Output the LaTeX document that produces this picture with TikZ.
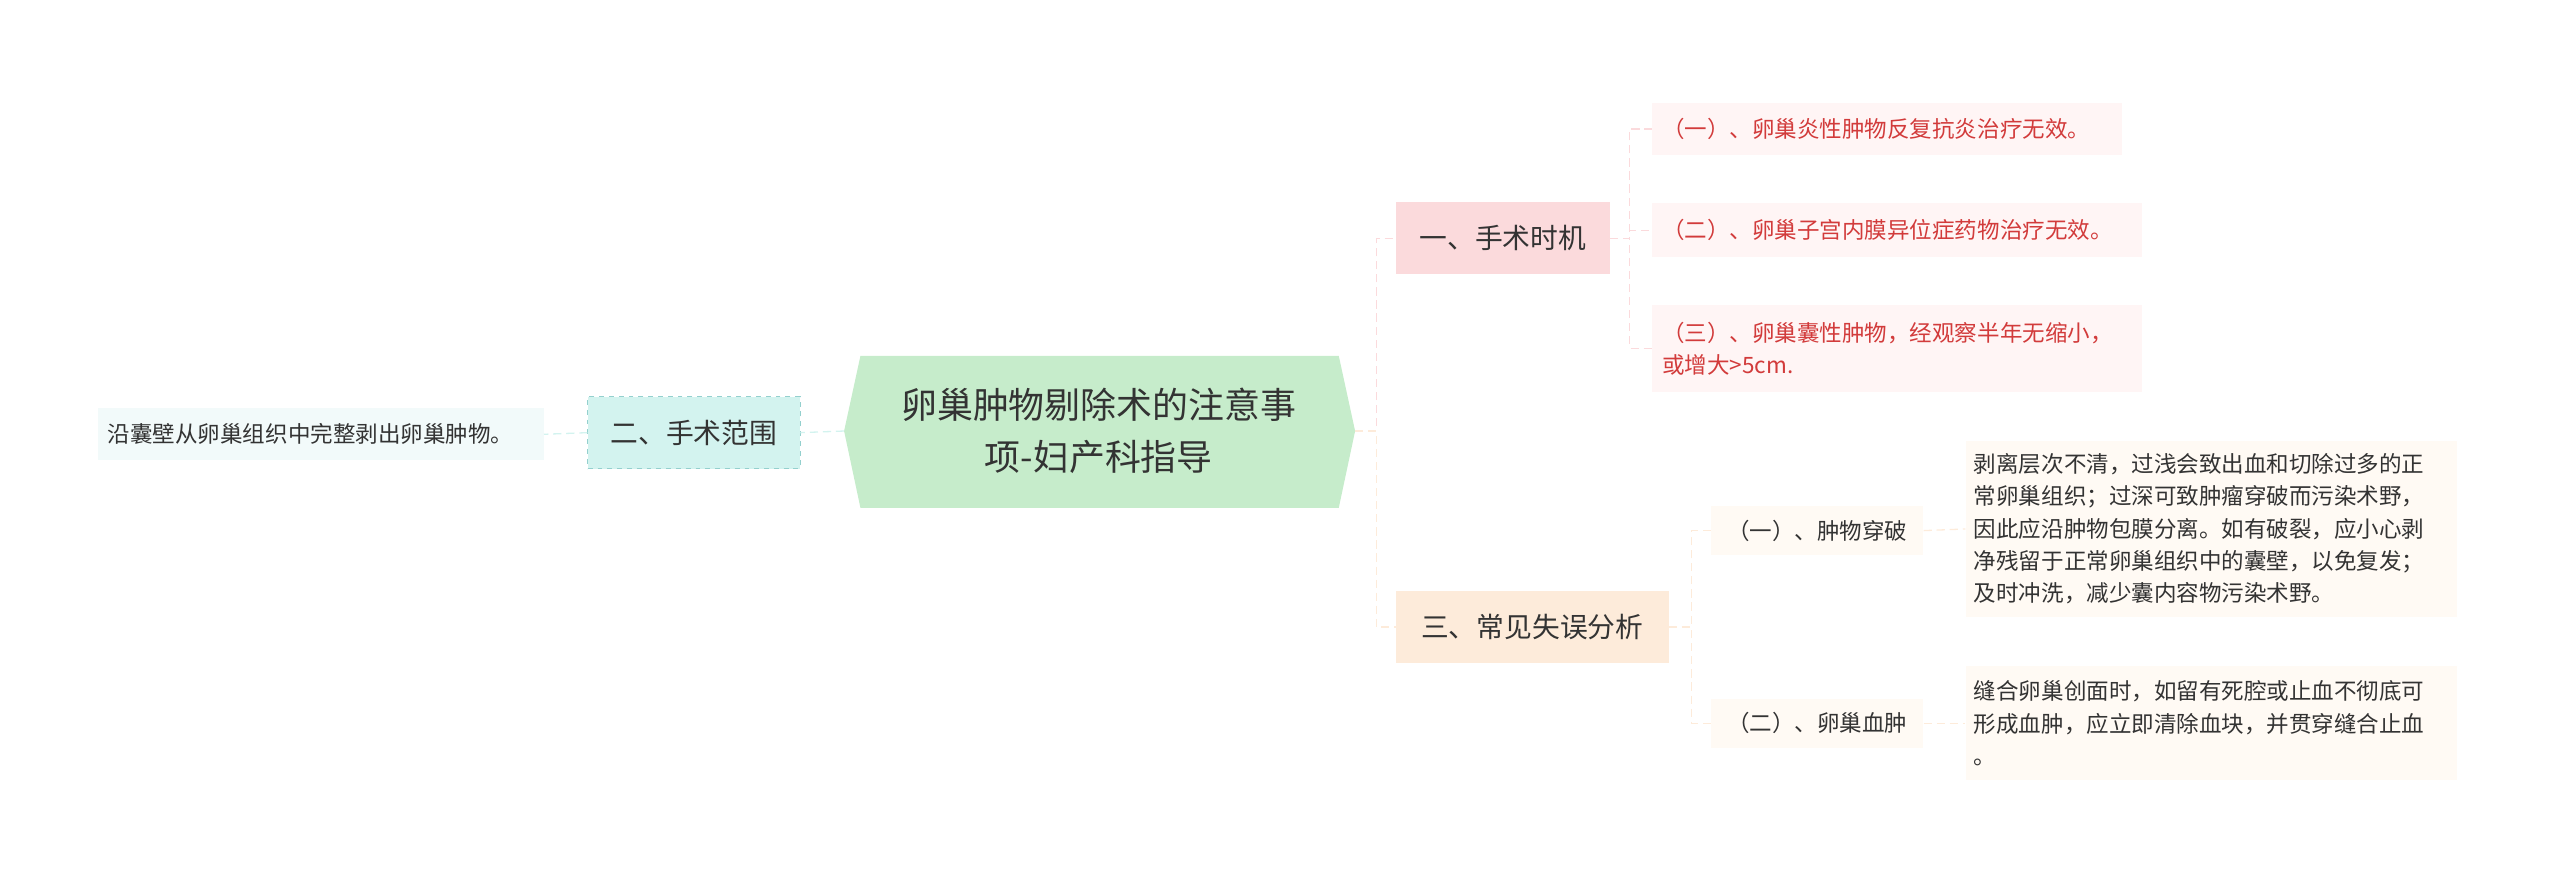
\documentclass[tikz,border=0pt]{standalone}
\usepackage{fontspec}
\setmainfont{Noto Sans CJK SC}
\usetikzlibrary{positioning}
\definecolor{cgreen}{HTML}{C6ECCB}
\definecolor{cpink}{HTML}{FBDADC}
\definecolor{cpinkl}{HTML}{FFF5F5}
\definecolor{cred}{HTML}{D23B3B}
\definecolor{ccyan}{HTML}{D3F3EF}
\definecolor{ccyanl}{HTML}{F2FAFA}
\definecolor{corange}{HTML}{FDEBDA}
\definecolor{corangel}{HTML}{FFFAF4}
\definecolor{ctext}{HTML}{333333}
\begin{document}
\begin{tikzpicture}[x=1pt,y=-1pt,
  lvl1/.style={inner sep=0pt,minimum height=44pt,font=\fontsize{17}{20}\selectfont,text=ctext},
  leaf/.style={inner sep=0pt,align=left,font=\fontsize{13.8}{19.8}\selectfont,text=ctext},
  sub/.style={inner sep=0pt,minimum height=30pt,minimum width=130pt,font=\fontsize{13.8}{16}\selectfont,text=ctext,fill=corangel},
  conn/.style={dashed,line width=0.8pt,dash pattern=on 5pt off 3pt}]
\useasboundingbox (0,0) rectangle (1568,540);
% center
\fill[cgreen] (517,264)--(527,218)--(820,218)--(830,264)--(820,311)--(527,311)--cycle;
\node[inner sep=0pt,align=center,font=\fontsize{22}{32}\selectfont,text=ctext] (c) at (673,264) {卵巢肿物剔除术的注意事\\项-妇产科指导};
\coordinate (cR) at (830,264);
\coordinate (cL) at (517,264);
% level 1
\node[lvl1,fill=cpink,minimum width=131pt] (a) at (920.5,146) {一、手术时机};
\node[lvl1,fill=ccyan,minimum width=130pt,draw=ccyan!70!teal,dashed] (b) at (425,265) {二、手术范围};
\node[lvl1,fill=corange,minimum width=167pt] (d) at (938.5,384) {三、常见失误分析};
% a leaves
\node[leaf,fill=cpinkl,text=cred,minimum width=288pt,minimum height=32pt,text width=276pt] (a1) at (1156,79) {（一）、卵巢炎性肿物反复抗炎治疗无效。};
\node[leaf,fill=cpinkl,text=cred,minimum width=300pt,minimum height=33pt,text width=288pt] (a2) at (1162,141) {（二）、卵巢子宫内膜异位症药物治疗无效。};
\node[leaf,fill=cpinkl,text=cred,minimum width=300pt,minimum height=53pt,text width=288pt] (a3) at (1162,213.5) {（三）、卵巢囊性肿物，经观察半年无缩小，\\或增大>5cm.};
% b leaf
\node[leaf,fill=ccyanl,minimum width=273pt,minimum height=32pt,text width=261pt] (b1) at (196.5,266) {沿囊壁从卵巢组织中完整剥出卵巢肿物。};
% d subs
\node[sub] (d1) at (1113,325) {（一）、肿物穿破};
\node[sub] (d2) at (1113,443) {（二）、卵巢血肿};
\node[leaf,fill=corangel,minimum width=301pt,minimum height=108pt,text width=291pt] (d1l) at (1354.5,324) {剥离层次不清，过浅会致出血和切除过多的正\\常卵巢组织；过深可致肿瘤穿破而污染术野，\\因此应沿肿物包膜分离。如有破裂，应小心剥\\净残留于正常卵巢组织中的囊壁，以免复发；\\及时冲洗，减少囊内容物污染术野。};
\node[leaf,fill=corangel,minimum width=301pt,minimum height=70pt,text width=291pt] (d2l) at (1354.5,443) {缝合卵巢创面时，如留有死腔或止血不彻底可\\形成血肿，应立即清除血块，并贯穿缝合止血\\。};
% connectors
\draw[conn,cpink] (cR) -- ++(13,0) |- (a.west);
\draw[conn,corange] (cR) -- ++(13,0) |- (d.west);
\draw[conn,ccyan] (cL) -- (b.east);
\draw[conn,ccyan] (b.west) -- (b1.east);
\draw[conn,cpink] (a.east) -- ++(12,0) |- (a1.west);
\draw[conn,cpink] (a.east) -- ++(12,0) |- (a2.west);
\draw[conn,cpink] (a.east) -- ++(12,0) |- (a3.west);
\draw[conn,corange] (d.east) -- ++(14,0) |- (d1.west);
\draw[conn,corange] (d.east) -- ++(14,0) |- (d2.west);
\draw[conn,corange] (d1.east) -- (d1l.west);
\draw[conn,corange] (d2.east) -- (d2l.west);
\end{tikzpicture}
\end{document}
